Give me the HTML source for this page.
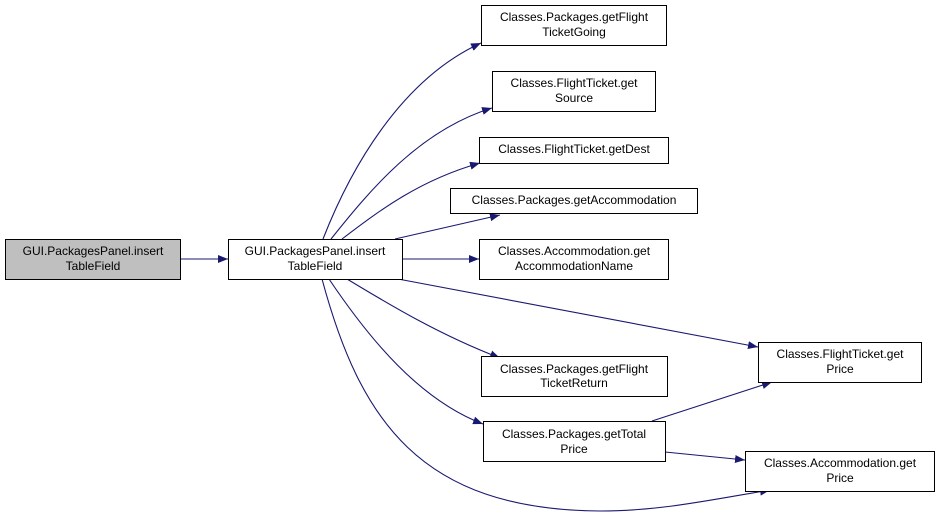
<!DOCTYPE html>
<html><head><style>
body{margin:0;background:#fff;}
svg{display:block;}
text{font-family:"Liberation Sans",Arial,sans-serif;font-size:12px;fill:#000;}
</style></head><body>
<svg width="940" height="517" viewBox="0 0 940 517" xmlns="http://www.w3.org/2000/svg">
<defs>
<marker id="a" markerWidth="10" markerHeight="8" refX="10" refY="4" orient="auto" markerUnits="userSpaceOnUse">
<path d="M0,0 L10,4 L0,8 Z" fill="#191970"/>
</marker>
</defs>
<g fill="none" stroke="#191970" stroke-width="1.1" marker-end="url(#a)">
<path d="M180,259 L228,259"/>
<path d="M323,239 C350,170 400,80 481,43"/>
<path d="M331,239 C370,190 420,130 492,108"/>
<path d="M342,239 C380,210 420,180 480,163"/>
<path d="M395,239 L500,215"/>
<path d="M402,259 L479,259"/>
<path d="M398,279 L758,347"/>
<path d="M347,279 C390,305 440,335 500,358"/>
<path d="M329,279 C370,340 420,400 483,424"/>
<path d="M322,279 C360,420 420,510 600,511 C660,511 710,500 770,490"/>
<path d="M652,421 L772,382"/>
<path d="M665,452 L745,460"/>
</g>
<g stroke="#000" stroke-width="1" fill="#fff">
<rect x="5.5" y="239.5" width="175" height="40" fill="#bfbfbf"/>
<rect x="228.5" y="239.5" width="174" height="40"/>
<rect x="481.5" y="5.5" width="185" height="40"/>
<rect x="492.5" y="71.5" width="163" height="40"/>
<rect x="479.5" y="137.5" width="189" height="26"/>
<rect x="450.5" y="188.5" width="247" height="25"/>
<rect x="479.5" y="239.5" width="189" height="40"/>
<rect x="758.5" y="342.5" width="163" height="40"/>
<rect x="481.5" y="356.5" width="186" height="40"/>
<rect x="483.5" y="421.5" width="182" height="40"/>
<rect x="745.5" y="451.5" width="189" height="40"/>
</g>
<g text-anchor="middle">
<text x="93" y="255">GUI.PackagesPanel.insert</text><text x="93" y="270">TableField</text>
<text x="315" y="255">GUI.PackagesPanel.insert</text><text x="315" y="270">TableField</text>
<text x="574" y="21">Classes.Packages.getFlight</text><text x="574" y="36">TicketGoing</text>
<text x="574" y="87">Classes.FlightTicket.get</text><text x="574" y="102">Source</text>
<text x="574" y="153">Classes.FlightTicket.getDest</text>
<text x="574" y="204">Classes.Packages.getAccommodation</text>
<text x="574" y="255">Classes.Accommodation.get</text><text x="574" y="270">AccommodationName</text>
<text x="840" y="358">Classes.FlightTicket.get</text><text x="840" y="373">Price</text>
<text x="574" y="373">Classes.Packages.getFlight</text><text x="574" y="387">TicketReturn</text>
<text x="574" y="438">Classes.Packages.getTotal</text><text x="574" y="453">Price</text>
<text x="840" y="467">Classes.Accommodation.get</text><text x="840" y="482">Price</text>
</g>
</svg>
</body></html>
